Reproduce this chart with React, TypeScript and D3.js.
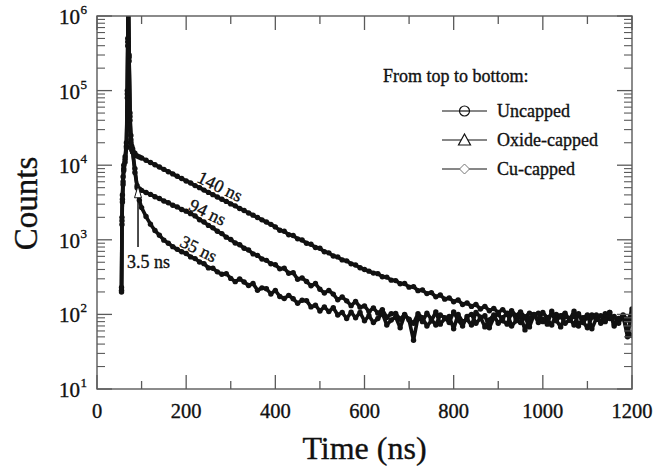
import React from "react";
import * as d3 from "d3";

// ---------- data ----------
const times = [
  55, 56, 57, 58.5, 60, 63, 66, 68, 69, 70, 72, 74, 76, 78, 80, 85, 90, 95, 100,
  110, 120, 130, 140, 150, 160, 170, 180, 190, 200,
  210, 220, 230, 240, 250, 260, 270, 280, 290, 300,
  310, 320, 330, 340, 350, 360, 370, 380, 390, 400,
  410, 420, 430, 440, 450, 460, 470, 480, 490, 500,
  510, 520, 530, 540, 550, 560, 570, 580, 590, 600,
  610, 620, 630, 640, 650, 660, 670, 680, 690, 700,
  710, 720, 730, 740, 750, 760, 770, 780, 790, 800,
  810, 820, 830, 840, 850, 860, 870, 880, 890, 900,
  910, 920, 930, 940, 950, 960, 970, 980, 990, 1000,
  1010, 1020, 1030, 1040, 1050, 1060, 1070, 1080, 1090, 1100,
  1110, 1120, 1130, 1140, 1150, 1160, 1170, 1180, 1190, 1200,
];

const uncapped = [
  210, 2000, 4000, 7000, 10000, 13000, 20000, 100000, 500000, 3000000, 300000, 50000, 25000, 18000, 16500, 14500, 13300, 12900, 12500,
  11650, 10850, 10150, 9450, 8800, 8180, 7650, 7100, 6620, 6150,
  5780, 5330, 5000, 4640, 4320, 4030, 3750, 3490, 3270, 3030,
  2850, 2630, 2470, 2290, 2140, 1990, 1850, 1730, 1610, 1490,
  1340, 1300, 1170, 1140, 1030, 995, 900, 870, 790, 770,
  690, 668, 606, 590, 538, 522, 476, 460, 422, 400,
  380, 358, 352, 320, 316, 288, 284, 258, 259, 232,
  236, 208, 212, 190, 196, 172, 182, 160, 166, 148,
  156, 136, 142, 128, 136, 118, 128, 112, 120, 106,
  116, 100, 112, 96, 108, 92, 104, 98, 86, 106,
  90, 100, 82, 96, 104, 84, 94, 100, 78, 92,
  98, 86, 80, 102, 88, 94, 76, 98, 84, 108,
];

const oxideCapped = [
  230, 1800, 3500, 6000, 9000, 12000, 18000, 90000, 450000, 2800000, 280000, 45000, 22000, 17000, 15000, 8000, 5300, 4800, 4600,
  4300, 4060, 3780, 3570, 3310, 3140, 2900, 2760, 2550, 2420,
  2240, 2090, 1860, 1730, 1560, 1445, 1300, 1210, 1085, 1010,
  905, 860, 770, 730, 648, 618, 552, 530, 478, 464,
  408, 415, 356, 363, 296, 308, 276, 242, 259, 217,
  194, 209, 187, 157, 171, 152, 131, 149, 125, 130,
  109, 122, 104, 116, 91, 102, 103, 86, 100, 84,
  45, 92, 80, 104, 86, 72, 98, 90, 78, 108,
  84, 70, 94, 100, 76, 88, 96, 66, 90, 102,
  82, 74, 106, 88, 78, 92, 68, 98, 104, 80,
  86, 72, 100, 94, 76, 84, 110, 70, 90, 98,
  64, 88, 96, 80, 106, 74, 86, 92, 60, 52,
];

const cuCapped = [
  200, 1600, 3200, 5500, 8500, 11000, 17000, 80000, 400000, 2500000, 250000, 40000, 20000, 16000, 15000, 9000, 5000, 3400, 2700,
  2050, 1620, 1330, 1150, 990, 900, 810, 745, 690, 655,
  590, 560, 505, 479, 420, 415, 372, 345, 352, 304,
  275, 298, 272, 244, 259, 210, 227, 221, 188, 210,
  174, 163, 180, 162, 141, 155, 153, 126, 133, 111,
  126, 109, 123, 98, 106, 88, 107, 90, 106, 82,
  96, 78, 88, 104, 72, 84, 92, 66, 98, 86,
  76, 102, 90, 70, 82, 108, 74, 88, 94, 64,
  100, 80, 86, 72, 106, 92, 68, 84, 98, 76,
  90, 104, 70, 82, 96, 62, 88, 100, 78, 86,
  74, 110, 84, 68, 94, 88, 72, 102, 80, 66,
  92, 98, 76, 84, 106, 70, 88, 96, 50, 118,
];

const seriesNames = ["Uncapped", "Oxide-capped", "Cu-capped"];
const seriesValues = [uncapped, oxideCapped, cuCapped];
const lifetimeLabels = ["140 ns", "94 ns", "35 ns"];
const lifetimeAt = [270, 242, 222]; // time where each label sits
const xTicks = [0, 200, 400, 600, 800, 1000, 1200];
const yExponents = [1, 2, 3, 4, 5, 6];

// ---------- layout ----------
const W = 653;
const H = 472;
const L = 97;
const R = 632;
const T = 16;
const B = 389;
const AX = "#5a5a5a";
const INK = "#111";
const FONT = "'Liberation Serif', 'Times New Roman', serif";

export default function App() {
  const x = d3.scaleLinear().domain([0, 1200]).range([L, R]);
  const y = d3.scaleLog().domain([10, 1e6]).range([B, T]);

  const line = d3
    .line<number>()
    .x((_, i) => x(times[i]))
    .y((d) => y(d));

  const minorX = d3.range(100, 1200, 200);
  const minorY: number[] = [];
  yExponents.slice(0, -1).forEach((e) => {
    for (let k = 2; k <= 9; k++) minorY.push(k * Math.pow(10, e));
  });

  const interp = (vals: number[], t: number) => {
    const i = d3.bisectLeft(times, t);
    const t0 = times[i - 1], t1 = times[i];
    const v0 = Math.log10(vals[i - 1]), v1 = Math.log10(vals[i]);
    return Math.pow(10, v0 + ((t - t0) / (t1 - t0)) * (v1 - v0));
  };

  // arrow annotation
  const arrowT = 92;
  const arrowTip = y(5300);
  const arrowBase = y(800);
  const ax = x(arrowT);
  const textStyle = { stroke: INK, strokeWidth: 0.35 } as React.CSSProperties;

  return (
    <svg width={W} height={H} style={{ display: "block", position: "absolute", left: 0, top: 0 }}>
      <rect width={W} height={H} fill="#fff" />
      <defs>
        <clipPath id="plotclip">
          <rect x={L} y={T} width={R - L} height={B - T} />
        </clipPath>
      </defs>

      {/* data */}
      <g clipPath="url(#plotclip)">
        {seriesValues.map((vals, si) => (
          <g key={si}>
            <path d={line(vals) || ""} fill="none" stroke={INK} strokeWidth={3.6} strokeLinejoin="round" />
            {vals.map((v, i) => (
              <circle key={i} cx={x(times[i])} cy={y(v)} r={2.7} fill={INK} />
            ))}
          </g>
        ))}
      </g>

      {/* frame */}
      <rect x={L} y={T} width={R - L} height={B - T} fill="none" stroke={AX} strokeWidth={1.4} />

      {/* x ticks bottom and top */}
      {xTicks.map((t) => (
        <g key={"xt" + t}>
          <line x1={x(t)} x2={x(t)} y1={B} y2={B - 14} stroke={AX} strokeWidth={1.3} />
          <line x1={x(t)} x2={x(t)} y1={T} y2={T + 14} stroke={AX} strokeWidth={1.3} />
          <text x={x(t)} y={418} textAnchor="middle" fontFamily={FONT} fontSize={20.5} fill={INK} style={textStyle}>
            {t}
          </text>
        </g>
      ))}
      {minorX.map((t) => (
        <g key={"xm" + t}>
          <line x1={x(t)} x2={x(t)} y1={B} y2={B - 8} stroke={AX} strokeWidth={1.3} />
          <line x1={x(t)} x2={x(t)} y1={T} y2={T + 8} stroke={AX} strokeWidth={1.3} />
        </g>
      ))}

      {/* y ticks left and right */}
      {yExponents.map((e) => {
        const v = Math.pow(10, e);
        return (
          <g key={"yt" + e}>
            <line x1={L} x2={L + 15} y1={y(v)} y2={y(v)} stroke={AX} strokeWidth={1.3} />
            <line x1={R} x2={R - 15} y1={y(v)} y2={y(v)} stroke={AX} strokeWidth={1.3} />
            <text x={80} y={y(v) + 8} textAnchor="end" fontFamily={FONT} fontSize={21} fill={INK} style={textStyle}>
              10
            </text>
            <text x={80.5} y={y(v) - 2} textAnchor="start" fontFamily={FONT} fontSize={13} fill={INK} style={textStyle}>
              {e}
            </text>
          </g>
        );
      })}
      {minorY.map((v) => (
        <g key={"ym" + v}>
          <line x1={L} x2={L + 8} y1={y(v)} y2={y(v)} stroke={AX} strokeWidth={1.1} />
          <line x1={R} x2={R - 8} y1={y(v)} y2={y(v)} stroke={AX} strokeWidth={1.1} />
        </g>
      ))}

      {/* axis titles */}
      <text
        transform={`translate(37, ${(T + B) / 2 + 1}) rotate(-90)`}
        textAnchor="middle"
        fontFamily={FONT}
        fontSize={33}
        fill={INK}
        style={textStyle}
      >
        Counts
      </text>
      <text x={(L + R) / 2} y={459} textAnchor="middle" fontFamily={FONT} fontSize={32} fill={INK} style={textStyle}>
        Time (ns)
      </text>

      {/* lifetime labels */}
      {lifetimeLabels.map((lab, i) => {
        const t = lifetimeAt[i];
        const px = x(t);
        const py = y(interp(seriesValues[i], t)) - 5;
        return (
          <text
            key={lab}
            transform={`translate(${px}, ${py}) rotate(26)`}
            textAnchor="middle"
            fontFamily={FONT}
            fontSize={18}
            fill={INK}
            style={textStyle}
          >
            {lab}
          </text>
        );
      })}

      {/* arrow + 3.5 ns */}
      <line x1={ax} x2={ax} y1={arrowTip + 11} y2={arrowBase} stroke={INK} strokeWidth={1.5} />
      <path
        d={`M${ax},${arrowTip} L${ax - 3.5},${arrowTip + 12} L${ax + 3.5},${arrowTip + 12} Z`}
        fill="#fff"
        stroke={INK}
        strokeWidth={1}
      />
      <text x={ax - 11} y={arrowBase + 21} textAnchor="start" fontFamily={FONT} fontSize={18} fill={INK} style={textStyle}>
        3.5 ns
      </text>

      {/* legend */}
      <text x={383} y={82} fontFamily={FONT} fontSize={18} fill={INK} style={textStyle}>
        From top to bottom:
      </text>
      {seriesNames.map((name, i) => {
        const cy = 111 + i * 29;
        return (
          <g key={name}>
            <line x1={442} x2={487} y1={cy} y2={cy} stroke={INK} strokeWidth={1.2} />
            {i === 0 && <circle cx={464.5} cy={cy} r={5} fill="#fff" stroke={INK} strokeWidth={1.2} />}
            {i === 0 && <line x1={459.5} x2={469.5} y1={cy} y2={cy} stroke={INK} strokeWidth={1.2} />}
            {i === 1 && (
              <path
                d={`M464.5,${cy - 6} L470.5,${cy + 5} L458.5,${cy + 5} Z`}
                fill="#fff"
                stroke={INK}
                strokeWidth={1.2}
              />
            )}
            {i === 2 && (
              <path
                d={`M464.5,${cy - 5} L469.5,${cy} L464.5,${cy + 5} L459.5,${cy} Z`}
                fill="#fff"
                stroke="#777"
                strokeWidth={1}
              />
            )}
            <text x={497} y={cy + 6} fontFamily={FONT} fontSize={18} fill={INK} style={textStyle}>
              {name}
            </text>
          </g>
        );
      })}
    </svg>
  );
}
